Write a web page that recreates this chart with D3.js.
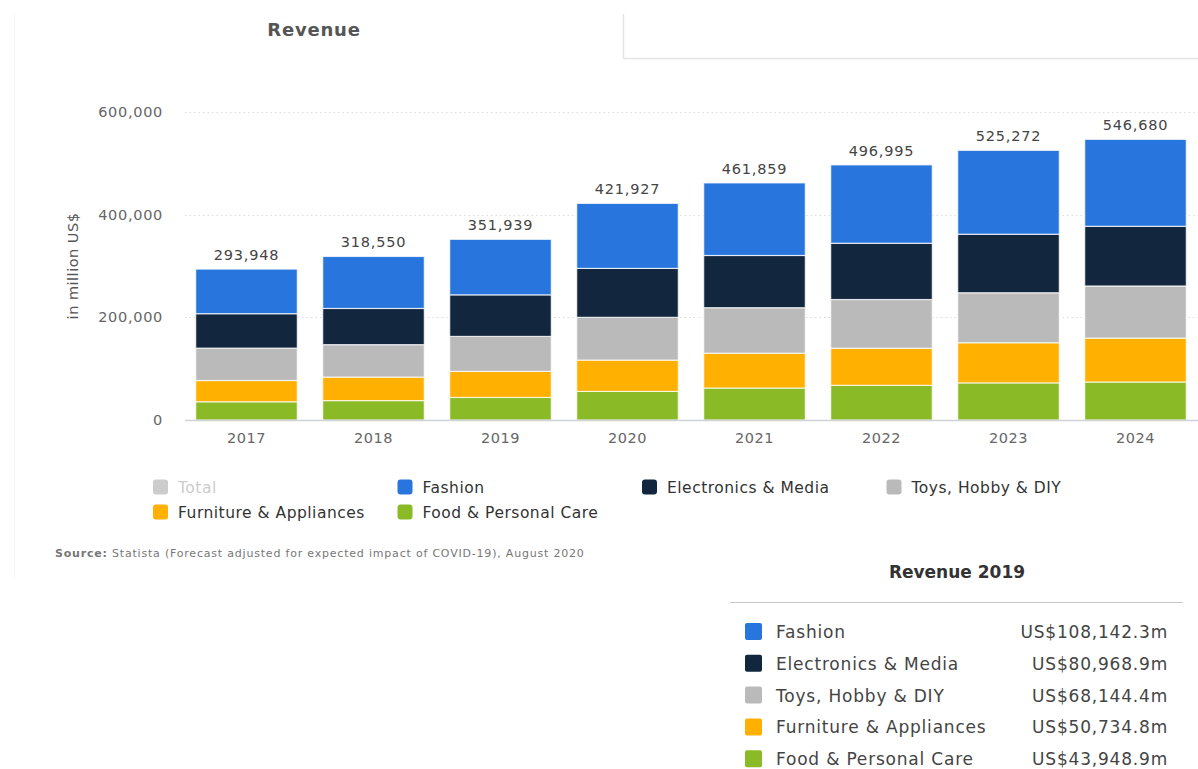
<!DOCTYPE html>
<html>
<head>
<meta charset="utf-8">
<script src="https://cdn.jsdelivr.net/npm/d3@7"></script>
<style>
  html, body { margin: 0; padding: 0; background: #ffffff; }
  svg { display: block; font-family: "DejaVu Sans", Verdana, sans-serif; }
</style>
</head>
<body>
<svg id="chart" width="1198" height="769"></svg>
<script>
// Revenue by segment, in million US$
const years = ["2017", "2018", "2019", "2020", "2021", "2022", "2023", "2024"];
const seriesNames = ["Food & Personal Care", "Furniture & Appliances", "Toys, Hobby & DIY", "Electronics & Media", "Fashion"];
const foodCare    = [35500, 37800, 43948.9, 55700, 62300, 67500, 72300, 74000];
const furniture   = [41400, 45800, 50734.8, 61000, 67800, 72200, 78200, 85500];
const toysHobby   = [63100, 63200, 68144.4, 83300, 88700, 95000, 97400, 101600];
const electronics = [67100, 70500, 80968.9, 95300, 101700, 109600, 114000, 116200];
const fashion     = [86848, 101250, 108142.3, 126627, 141359, 152695, 163372, 169380];
const yTicks = [0, 200000, 400000, 600000];
const legendRows = [
  ["Total", "Fashion", "Electronics & Media", "Toys, Hobby & DIY"],
  ["Furniture & Appliances", "Food & Personal Care"]
];
const tooltipYear = "2019";

const colors = {
  "Total": "#cccccc",
  "Fashion": "#2876dd",
  "Electronics & Media": "#12263e",
  "Toys, Hobby & DIY": "#bababa",
  "Furniture & Appliances": "#ffb000",
  "Food & Personal Care": "#8aba26"
};

const seriesValues = [foodCare, furniture, toysHobby, electronics, fashion];
const rows = years.map((yr, i) => {
  const r = { year: yr };
  seriesNames.forEach((n, k) => { r[n] = seriesValues[k][i]; });
  return r;
});
const totals = rows.map(r => d3.sum(seriesNames, n => r[n]));

const svg = d3.select("#chart");
const fmt = d3.format(",");

// faint panel outlines
svg.append("line").attr("x1", 623.5).attr("x2", 623.5).attr("y1", 14).attr("y2", 58.5)
  .attr("stroke", "#e4e4e4").attr("stroke-width", 1.5);
svg.append("line").attr("x1", 623).attr("x2", 1198).attr("y1", 58.5).attr("y2", 58.5)
  .attr("stroke", "#e4e4e4").attr("stroke-width", 1.5);
svg.append("line").attr("x1", 14.5).attr("x2", 14.5).attr("y1", 14).attr("y2", 578)
  .attr("stroke", "#f6f6f6").attr("stroke-width", 1);

// title
svg.append("text").attr("x", 314).attr("y", 36).attr("text-anchor", "middle")
  .attr("font-size", 18).attr("letter-spacing", 0.8).attr("font-weight", "bold").attr("fill", "#555")
  .text("Revenue");

const x = d3.scaleBand().domain(years).range([183, 1199]).paddingInner(0.2).paddingOuter(0.1);
const y = d3.scaleLinear().domain([0, 600000]).range([420, 112]);

// grid lines
svg.append("g").selectAll("line").data(yTicks.filter(t => t > 0)).join("line")
  .attr("x1", 185).attr("x2", 1198)
  .attr("y1", d => Math.round(y(d)) + 0.5).attr("y2", d => Math.round(y(d)) + 0.5)
  .attr("stroke", "#dcdcdc").attr("stroke-width", 1).attr("stroke-dasharray", "1.5,3");

// y axis labels
const yAxis = d3.axisLeft(y).tickValues(yTicks).tickFormat(fmt).tickSize(0).tickPadding(0);
const gy = svg.append("g").attr("transform", "translate(163,0)").call(yAxis);
gy.select(".domain").remove();
gy.selectAll("text").attr("font-size", 14.5).attr("letter-spacing", 0.7).attr("fill", "#666")
  .attr("font-family", "DejaVu Sans, Verdana, sans-serif");

svg.append("text")
  .attr("transform", "translate(78,266) rotate(-90)")
  .attr("text-anchor", "middle").attr("font-size", 14.5).attr("letter-spacing", 0.5).attr("fill", "#555")
  .text("in million US$");

// stacked bars
const stack = d3.stack().keys(seriesNames)(rows);
svg.append("g").selectAll("g").data(stack).join("g")
  .attr("fill", d => colors[d.key])
  .selectAll("rect").data(d => d).join("rect")
  .attr("x", d => x(d.data.year))
  .attr("width", x.bandwidth())
  .attr("y", d => y(d[1]))
  .attr("height", d => y(d[0]) - y(d[1]))
  .attr("stroke", "#ffffff").attr("stroke-width", 1.2).attr("stroke-opacity", 0.75);

// baseline
svg.append("line").attr("x1", 185).attr("x2", 1198).attr("y1", 420.5).attr("y2", 420.5)
  .attr("stroke", "#cfd3d9").attr("stroke-width", 1.5);

// x axis labels
const xAxis = d3.axisBottom(x).tickSize(0).tickPadding(0);
const gx = svg.append("g").attr("transform", "translate(0,433)").call(xAxis);
gx.select(".domain").remove();
gx.selectAll("text").attr("font-size", 14.5).attr("letter-spacing", 0.5).attr("fill", "#666")
  .attr("font-family", "DejaVu Sans, Verdana, sans-serif");

// totals above bars
svg.append("g").selectAll("text").data(rows).join("text")
  .attr("x", d => x(d.year) + x.bandwidth() / 2)
  .attr("y", (d, i) => y(totals[i]) - 9)
  .attr("text-anchor", "middle").attr("font-size", 14.5).attr("letter-spacing", 0.8).attr("fill", "#444")
  .text((d, i) => fmt(Math.round(totals[i])));

// legend
const legend = svg.append("g");
legendRows.forEach((row, ri) => {
  row.forEach((name, ci) => {
    const g = legend.append("g").attr("transform", `translate(${153 + ci * 244.5},${487 + ri * 25})`);
    g.append("rect").attr("x", 0).attr("y", -7.5).attr("width", 15).attr("height", 15)
      .attr("rx", 3).attr("fill", colors[name]);
    g.append("text").attr("x", 25).attr("y", 5.5).attr("font-size", 15.5).attr("letter-spacing", 0.5)
      .attr("fill", name === "Total" ? "#cccccc" : "#333")
      .text(name);
  });
});

// source note
const src = svg.append("text").attr("x", 55).attr("y", 557).attr("font-size", 11)
  .attr("letter-spacing", 0.8).attr("fill", "#777");
src.append("tspan").attr("font-weight", "bold").text("Source:");
src.append("tspan").text(" Statista (Forecast adjusted for expected impact of COVID-19), August 2020");

// tooltip for the selected year
const ti = years.indexOf(tooltipYear);
const tip = svg.append("g");
tip.append("rect").attr("x", 728).attr("y", 548).attr("width", 462).attr("height", 230)
  .attr("fill", "#ffffff");
tip.append("text").attr("x", 957).attr("y", 578).attr("text-anchor", "middle")
  .attr("font-size", 17).attr("font-weight", "bold").attr("fill", "#333")
  .text("Revenue " + tooltipYear);
tip.append("line").attr("x1", 730).attr("x2", 1183).attr("y1", 602.5).attr("y2", 602.5)
  .attr("stroke", "#c8c8c8").attr("stroke-width", 1);
const tipNames = seriesNames.slice().reverse();
tipNames.forEach((name, k) => {
  const cy = 632 + k * 31.8;
  const vals = seriesValues[seriesNames.indexOf(name)];
  tip.append("rect").attr("x", 745).attr("y", cy - 9).attr("width", 17).attr("height", 17)
    .attr("rx", 2).attr("fill", colors[name]);
  tip.append("text").attr("x", 776).attr("y", cy + 6).attr("font-size", 17).attr("letter-spacing", 0.8)
    .attr("fill", "#444")
    .text(name);
  tip.append("text").attr("x", 1168).attr("y", cy + 6).attr("text-anchor", "end")
    .attr("font-size", 17).attr("letter-spacing", 0.8).attr("fill", "#444")
    .text("US$" + d3.format(",.1f")(vals[ti]) + "m");
});
</script>
</body>
</html>
